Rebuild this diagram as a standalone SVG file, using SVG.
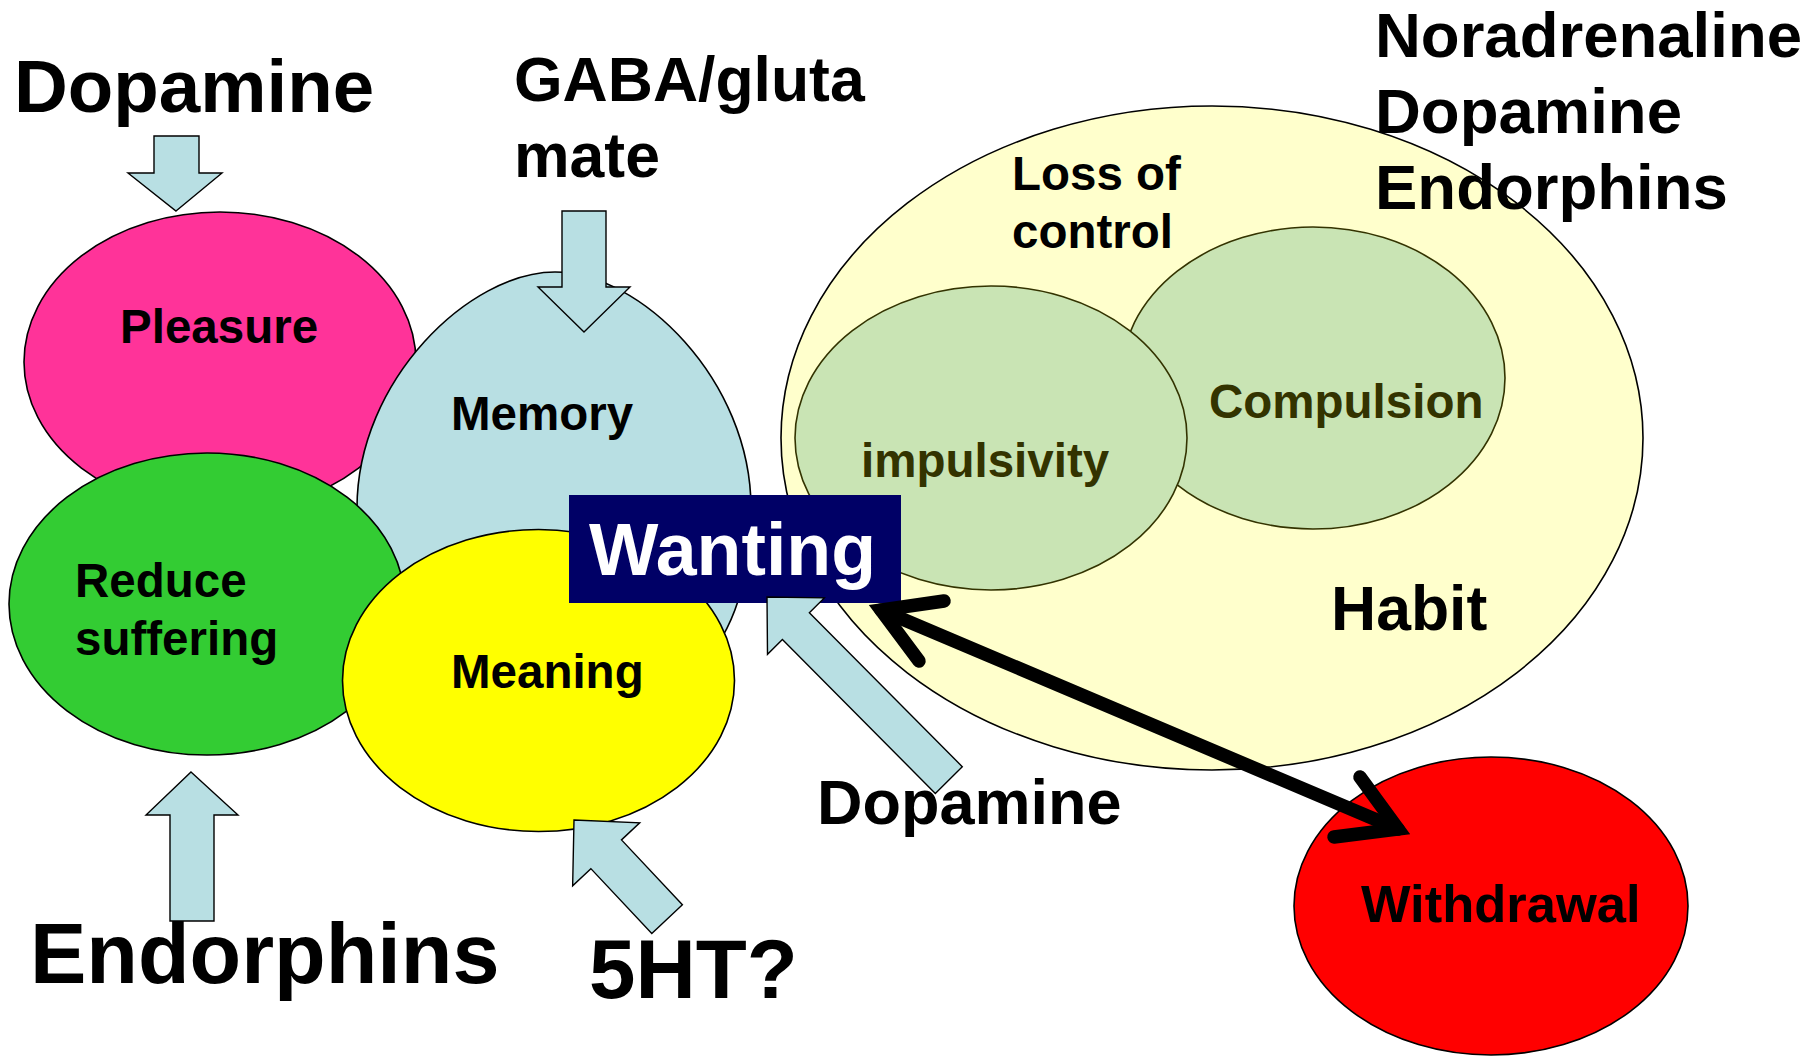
<svg xmlns="http://www.w3.org/2000/svg" width="1812" height="1058" viewBox="0 0 1812 1058">
  <style>
    text { font-family: "Liberation Sans", Arial, sans-serif; font-weight: bold; fill: #000; }
    .big { font-size: 74.5px; }
    .mid { font-size: 63.5px; }
    .lbl { font-size: 47.5px; }
    .olive { fill: #333300; }
    .node { stroke: #000; stroke-width: 1.6; }
    .inner { stroke: #333300; stroke-width: 1.6; fill: #C9E4B4; }
    .block { fill: #B8DFE3; stroke: #000; stroke-width: 1.4; stroke-linejoin: miter; }
    .bold-link { fill: none; stroke: #000; stroke-width: 13.5; stroke-linecap: round; stroke-linejoin: miter; }
  </style>

  <rect width="1812" height="1058" fill="#fff"/>

  <!-- Habit region with its two inner circles -->
  <g id="habit">
    <ellipse class="node" cx="1212" cy="438" rx="431" ry="332" fill="#FFFFCC"/>
    <text x="1331" y="630" style="font-size:62.5px">Habit</text>
  </g>
  <g id="compulsion">
    <ellipse class="inner" cx="1313" cy="378" rx="192" ry="151"/>
    <text class="lbl olive" x="1209" y="418">Compulsion</text>
  </g>
  <g id="impulsivity">
    <ellipse class="inner" cx="991" cy="438" rx="196" ry="152"/>
    <text class="lbl olive" x="861" y="477">impulsivity</text>
  </g>
  <g id="loss-of-control">
    <text class="lbl" x="1012" y="190">Loss of</text>
    <text class="lbl" x="1012" y="248">control</text>
  </g>

  <!-- Left cluster -->
  <g id="pleasure">
    <ellipse class="node" cx="220" cy="362" rx="196" ry="150" fill="#FF3399"/>
    <text class="lbl" x="120" y="343">Pleasure</text>
  </g>
  <g id="memory">
    <path class="node" fill="#B8DFE3" d="M555,272 C640,272 751,380 751,508 C751,650 680,720 555,720 C430,720 357,640 357,508 C357,380 470,272 555,272 Z"/>
    <text class="lbl" x="451" y="430">Memory</text>
  </g>
  <g id="reduce-suffering">
    <ellipse class="node" cx="207" cy="604" rx="198" ry="151" fill="#33CC33"/>
    <text class="lbl" x="75" y="597">Reduce</text>
    <text class="lbl" x="75" y="655">suffering</text>
  </g>
  <g id="meaning">
    <ellipse class="node" cx="538.5" cy="680.5" rx="196" ry="151" fill="#FFFF00"/>
    <text class="lbl" x="451" y="688">Meaning</text>
  </g>

  <g id="withdrawal">
    <ellipse class="node" cx="1491" cy="906" rx="197" ry="149" fill="#FF0000"/>
    <text x="1361" y="922" style="font-size:52.5px">Withdrawal</text>
  </g>

  <g id="wanting">
    <rect x="569" y="495" width="332" height="108" fill="#000066"/>
    <text x="589" y="575" style="font-size:73.5px;fill:#fff">Wanting</text>
  </g>

  <!-- Transmitter labels -->
  <g id="dopamine-top"><text class="big" x="14" y="112">Dopamine</text></g>
  <g id="gaba">
    <text x="514" y="101" style="font-size:62.5px">GABA/gluta</text>
    <text x="514" y="177" style="font-size:62.5px">mate</text>
  </g>
  <g id="habit-transmitters">
    <text class="mid" x="1375" y="57">Noradrenaline</text>
    <text class="mid" x="1375" y="133">Dopamine</text>
    <text class="mid" x="1375" y="209">Endorphins</text>
  </g>
  <g id="endorphins"><text x="30" y="983" style="font-size:84.5px">Endorphins</text></g>
  <g id="serotonin"><text x="589" y="998" style="font-size:83.5px">5HT?</text></g>
  <g id="dopamine-wanting"><text x="817" y="824" style="font-size:63px">Dopamine</text></g>

  <!-- Connectors -->
  <g id="connectors">
    <!-- block arrows: tip at local origin, shaft running down +y -->
    <polygon class="block" points="176,211 222,173 199,173 199,136 154,136 154,173 128,173"/>
    <polygon class="block" points="584,332 630,287 606,287 606,211 562,211 562,287 538,287"/>
    <polygon class="block" points="191,772 238,815 214,815 214,921 170,921 170,815 146,815"/>
    <polygon class="block" transform="translate(574,820) rotate(-43.2)" points="0,0 46,47 21,47 21,136 -21,136 -21,47 -46,47"/>
    <polygon class="block" transform="translate(767,597) rotate(-44.8)" points="0,0 40,41 19,41 19,258 -19,258 -19,41 -40,41"/>

    <!-- double-headed link between Wanting and Withdrawal -->
    <path class="bold-link" d="M881,610 L1398,829"/>
    <path class="bold-link" d="M944,601 L881,610 L919,661"/>
    <path class="bold-link" d="M1334,837 L1398,829 L1360,777"/>
  </g>
</svg>
